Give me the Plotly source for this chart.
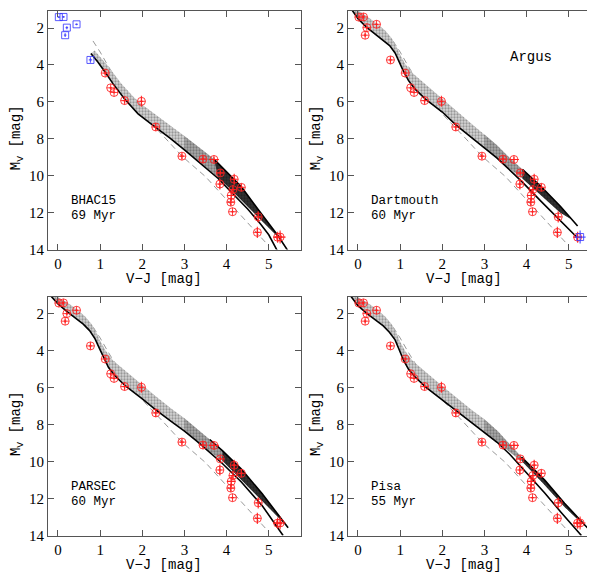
import plotly.graph_objects as go
from plotly.subplots import make_subplots

# Argus members: V-J colour and absolute V magnitude with errors
vj = [0.02, 0.13, 0.21, 0.17, 0.44, 0.77, 1.12, 1.25, 1.33, 1.58, 1.98, 2.32, 2.94, 3.44,
      3.70, 3.85, 3.84, 4.18, 4.15, 4.35, 4.11, 4.10, 4.14, 4.75, 4.73, 5.21, 5.27]
mv = [1.41, 1.40, 1.98, 2.39, 1.80, 3.73, 4.44, 5.24, 5.49, 5.93, 5.97, 7.36, 8.94, 9.10,
      9.12, 9.85, 10.45, 10.19, 10.75, 10.63, 11.07, 11.43, 11.95, 12.23, 13.07, 13.33, 13.32]
vj_err = [0.03, 0.03, 0.03, 0.03, 0.03, 0.04, 0.04, 0.03, 0.03, 0.05, 0.04, 0.05, 0.05, 0.06,
          0.12, 0.08, 0.04, 0.05, 0.05, 0.05, 0.10, 0.08, 0.04, 0.06, 0.05, 0.10, 0.13]
mv_err = [0.05, 0.05, 0.08, 0.10, 0.05, 0.15, 0.10, 0.06, 0.06, 0.15, 0.30, 0.20, 0.15, 0.20,
          0.15, 0.10, 0.30, 0.30, 0.25, 0.20, 0.30, 0.20, 0.06, 0.30, 0.30, 0.30, 0.35]

# main sequence (dashed grey)
ms_x = [0.83, 1.0, 1.2, 1.5, 1.8, 2.1, 2.5, 2.94, 3.5, 4.0, 4.45, 4.73, 5.0]
ms_y = [2.7, 3.3, 4.1, 5.2, 6.1, 6.9, 7.85, 8.94, 10.05, 11.3, 12.45, 13.1, 13.8]

# BHAC15 69 Myr
bhac_iso_x = [0.78, 0.95, 1.12, 1.3, 1.58, 1.9, 2.3, 2.65, 3.0, 3.4, 3.8, 4.2, 4.5, 4.8, 5.0, 5.2]
bhac_iso_y = [3.38, 3.85, 4.4, 5.0, 5.85, 6.65, 7.36, 7.95, 8.6, 9.35, 10.15, 11.1, 11.8, 12.6, 13.2, 14.05]
bhac_bin_x = [0.87, 1.0, 1.2, 1.5, 1.8, 2.0, 2.3, 2.7, 3.0, 3.4, 3.7, 4.0, 4.35, 4.74, 5.0, 5.22, 5.45]
bhac_bin_y = [3.22, 3.55, 4.1, 5.0, 5.75, 6.15, 6.65, 7.3, 7.85, 8.55, 9.1, 9.8, 10.6, 11.8, 12.6, 13.25, 14.05]
bhac_low_x = [3.5, 3.8, 4.1, 4.4, 4.8, 5.1, 5.28]
bhac_low_y = [9.5, 10.1, 10.75, 11.4, 12.35, 13.05, 13.45]

# Dartmouth 60 Myr
dart_iso_x = [-0.15, 0.0, 0.2, 0.4, 0.6, 0.75, 0.88, 0.98, 1.08, 1.2, 1.35, 1.6, 2.0, 2.32, 2.7,
              3.0, 3.3, 3.56, 3.9, 4.35, 4.8, 5.21]
dart_iso_y = [1.0, 1.5, 1.95, 2.3, 2.65, 2.95, 3.35, 3.85, 4.35, 4.85, 5.3, 5.85, 6.55, 7.25, 7.95,
              8.5, 9.05, 9.6, 10.35, 11.4, 12.45, 13.37]
dart_bin_x = [-0.05, 0.2, 0.45, 0.65, 0.8, 0.9, 1.0, 1.12, 1.3, 1.6, 2.0, 2.32, 2.7, 3.0, 3.3,
              3.56, 3.9, 4.35, 4.8, 5.05, 5.21]
dart_bin_y = [0.95, 1.35, 1.75, 2.15, 2.55, 2.95, 3.45, 3.95, 4.45, 5.05, 5.8, 6.45, 7.2, 7.75, 8.35,
              8.95, 9.65, 10.6, 11.65, 12.3, 12.72]
dart_low_x = [3.5, 3.9, 4.35, 4.8, 5.05]
dart_low_y = [9.45, 10.15, 11.05, 12.0, 12.35]

# PARSEC 60 Myr
pars_iso_x = [-0.2, 0.0, 0.2, 0.4, 0.6, 0.75, 0.88, 0.98, 1.08, 1.2, 1.35, 1.6, 2.0, 2.32, 2.7,
              3.0, 3.3, 3.6, 3.9, 4.35, 4.85, 5.34]
pars_iso_y = [0.95, 1.45, 1.85, 2.2, 2.55, 2.9, 3.35, 3.85, 4.35, 4.9, 5.35, 5.9, 6.6, 7.2, 7.85,
              8.35, 8.9, 9.5, 10.1, 11.1, 12.4, 14.0]
pars_bin_x = [-0.1, 0.2, 0.45, 0.65, 0.8, 0.9, 1.0, 1.12, 1.3, 1.6, 2.0, 2.32, 2.7, 3.0, 3.3,
              3.6, 3.9, 4.35, 4.85, 5.46]
pars_bin_y = [0.95, 1.35, 1.75, 2.15, 2.55, 2.95, 3.45, 3.95, 4.5, 5.1, 5.85, 6.45, 7.15, 7.65, 8.2,
              8.8, 9.4, 10.4, 11.75, 13.58]
pars_low_x = [3.5, 3.9, 4.35, 4.85, 5.2, 5.46]
pars_low_y = [9.3, 9.95, 10.95, 12.15, 12.95, 13.58]

# Pisa 55 Myr
pisa_iso_x = [-0.2, 0.0, 0.2, 0.4, 0.6, 0.75, 0.88, 0.98, 1.08, 1.2, 1.35, 1.6, 2.0, 2.32, 2.7,
              3.0, 3.3, 3.6, 3.88, 4.43, 4.82, 5.3]
pisa_iso_y = [0.95, 1.55, 1.95, 2.3, 2.65, 3.0, 3.4, 3.95, 4.5, 5.0, 5.4, 5.95, 6.65, 7.25, 7.9,
              8.4, 8.95, 9.6, 10.3, 11.7, 12.75, 14.0]
pisa_bin_x = [-0.1, 0.2, 0.45, 0.65, 0.8, 0.9, 1.0, 1.12, 1.3, 1.6, 2.0, 2.32, 2.7, 3.0, 3.32,
              3.88, 4.43, 4.9, 5.45]
pisa_bin_y = [0.95, 1.35, 1.75, 2.15, 2.55, 2.95, 3.5, 4.0, 4.55, 5.15, 5.9, 6.5, 7.2, 7.7, 8.35,
              9.75, 11.0, 12.25, 13.6]
pisa_low_x = [3.5, 3.9, 4.4, 4.9, 5.2, 5.45]
pisa_low_y = [9.3, 10.0, 11.2, 12.45, 13.1, 13.6]

panels = [
    dict(name="BHAC15", age="69 Myr", iso=(bhac_iso_x, bhac_iso_y), bin=(bhac_bin_x, bhac_bin_y),
         low=(bhac_low_x, bhac_low_y), blue=[0, 1, 2, 3, 4, 5]),
    dict(name="Dartmouth", age="60 Myr", iso=(dart_iso_x, dart_iso_y), bin=(dart_bin_x, dart_bin_y),
         low=(dart_low_x, dart_low_y), blue=[26]),
    dict(name="PARSEC", age="60 Myr", iso=(pars_iso_x, pars_iso_y), bin=(pars_bin_x, pars_bin_y),
         low=(pars_low_x, pars_low_y), blue=[]),
    dict(name="Pisa", age="55 Myr", iso=(pisa_iso_x, pisa_iso_y), bin=(pisa_bin_x, pisa_bin_y),
         low=(pisa_low_x, pisa_low_y), blue=[]),
]

RED = "rgba(255,30,30,0.85)"
BLUE = "rgba(60,60,255,0.85)"


def band_polygon(p, xmin):
    # upper edge = binary sequence, lower edge = isochrone then the dense wedge edge
    lx, ly = p["low"]
    ix, iy = p["iso"]
    bx, by = p["bin"]
    lower = [(x, y) for x, y in zip(ix, iy) if x < lx[0]] + list(zip(lx, ly))
    upper = [(x, y) for x, y in zip(bx, by) if x <= lx[-1] + 0.01]
    lower = [pt for pt in lower if pt[0] >= xmin]
    upper = [pt for pt in upper if pt[0] >= xmin]
    pts = upper + lower[::-1]
    return [q[0] for q in pts], [q[1] for q in pts]


fig = make_subplots(rows=2, cols=2)
cells = [(1, 1), (1, 2), (2, 1), (2, 2)]

for p, (r, c) in zip(panels, cells):
    fig.add_trace(go.Scatter(x=ms_x, y=ms_y, mode="lines",
                             line=dict(color="#999999", width=1, dash="6px,4px")), row=r, col=c)
    px_, py_ = band_polygon(p, -1)
    fig.add_trace(go.Scatter(x=px_, y=py_, mode="lines", fill="toself", line=dict(width=0),
                             fillcolor="#d2d2d2",
                             fillpattern=dict(shape=".", size=3, solidity=0.45,
                                              fgcolor="#555555", bgcolor="#d6d6d6")),
                  row=r, col=c)
    px_, py_ = band_polygon(p, 2.9)
    fig.add_trace(go.Scatter(x=px_, y=py_, mode="lines", fill="toself", line=dict(width=0),
                             fillcolor="rgba(0,0,0,0.2)"), row=r, col=c)
    px_, py_ = band_polygon(p, 3.7)
    fig.add_trace(go.Scatter(x=px_, y=py_, mode="lines", fill="toself", line=dict(width=0),
                             fillcolor="rgba(0,0,0,0.7)"), row=r, col=c)
    fig.add_trace(go.Scatter(x=p["iso"][0], y=p["iso"][1], mode="lines",
                             line=dict(color="black", width=1.6)), row=r, col=c)
    bx = [x for x in p["bin"][0] if x >= 3.6]
    by = [y for x, y in zip(*p["bin"]) if x >= 3.6]
    fig.add_trace(go.Scatter(x=bx, y=by, mode="lines",
                             line=dict(color="black", width=1.6)), row=r, col=c)

    red_i = [i for i in range(len(vj)) if i not in p["blue"]]
    fig.add_trace(go.Scatter(
        x=[vj[i] for i in red_i], y=[mv[i] for i in red_i], mode="markers",
        marker=dict(symbol="circle-cross-open", size=8, color=RED, line=dict(width=1, color=RED)),
        error_x=dict(type="data", array=[vj_err[i] for i in red_i], color=RED, thickness=1.2, width=0),
        error_y=dict(type="data", array=[mv_err[i] for i in red_i], color=RED, thickness=1.2, width=0),
    ), row=r, col=c)
    if p["blue"]:
        bi = p["blue"]
        fig.add_trace(go.Scatter(
            x=[vj[i] for i in bi], y=[mv[i] for i in bi], mode="markers",
            marker=dict(symbol="square-open", size=7, color=BLUE, line=dict(width=1, color=BLUE)),
            error_x=dict(type="data", array=[vj_err[i] for i in bi], color=BLUE, thickness=1.2, width=0),
            error_y=dict(type="data", array=[mv_err[i] for i in bi], color=BLUE, thickness=1.2, width=0),
        ), row=r, col=c)

W, H = 595, 573
xdoms = [[40 / W, 293 / W], [340 / W, 593 / W]]
ydoms = [[1 - 245 / H, 1 - 3 / H], [1 - 535 / H, 1 - 293 / H]]

axis_common = dict(showgrid=False, zeroline=False, showline=True, linecolor="#555555", linewidth=1,
                   mirror="ticks", ticks="inside", ticklen=6, tickcolor="#555555",
                   tickfont=dict(family="Liberation Serif", size=15, color="black"))

for k, (r, c) in enumerate(cells, start=1):
    xa = "xaxis" if k == 1 else f"xaxis{k}"
    ya = "yaxis" if k == 1 else f"yaxis{k}"
    fig.layout[xa].update(domain=xdoms[c - 1], range=[-0.237, 5.765],
                          tickvals=[0, 1, 2, 3, 4, 5], **axis_common)
    fig.layout[ya].update(domain=ydoms[r - 1], range=[14.0, 1.076],
                          tickvals=[2, 4, 6, 8, 10, 12, 14], **axis_common)

annotations = []
mono = dict(family="Liberation Mono", size=14, color="black")
for k, (r, c) in enumerate(cells):
    x_off = 0 if c == 1 else 300
    y_off = 0 if r == 1 else 290
    annotations.append(dict(xref="paper", yref="paper", x=(156 + x_off) / W, y=1 - (275 + y_off) / H,
                            text="V\u2212J [mag]", showarrow=False, font=mono,
                            xanchor="center", yanchor="middle"))
    annotations.append(dict(xref="paper", yref="paper", x=(9 + x_off) / W, y=1 - (132 + y_off) / H,
                            text="M<sub>V</sub> [mag]", showarrow=False, font=mono, textangle=-90,
                            xanchor="center", yanchor="middle"))
    p = panels[k]
    xr = "x" if k == 0 else f"x{k + 1}"
    yr = "y" if k == 0 else f"y{k + 1}"
    lab = dict(family="Liberation Mono", size=12.5, color="black")
    annotations.append(dict(xref=xr, yref=yr, x=0.25, y=11.36, text=p["name"], showarrow=False,
                            font=lab, xanchor="left", yanchor="middle"))
    annotations.append(dict(xref=xr, yref=yr, x=0.25, y=12.2, text=p["age"], showarrow=False,
                            font=lab, xanchor="left", yanchor="middle"))

annotations.append(dict(xref="x2", yref="y2", x=4.11, y=3.55, text="Argus", showarrow=False,
                        font=dict(family="Liberation Mono", size=14, color="black"),
                        xanchor="center", yanchor="middle"))

fig.update_layout(width=W, height=H, margin=dict(l=0, r=0, t=0, b=0),
                  paper_bgcolor="white", plot_bgcolor="white", showlegend=False,
                  annotations=annotations)

fig.write_html("out.html")
